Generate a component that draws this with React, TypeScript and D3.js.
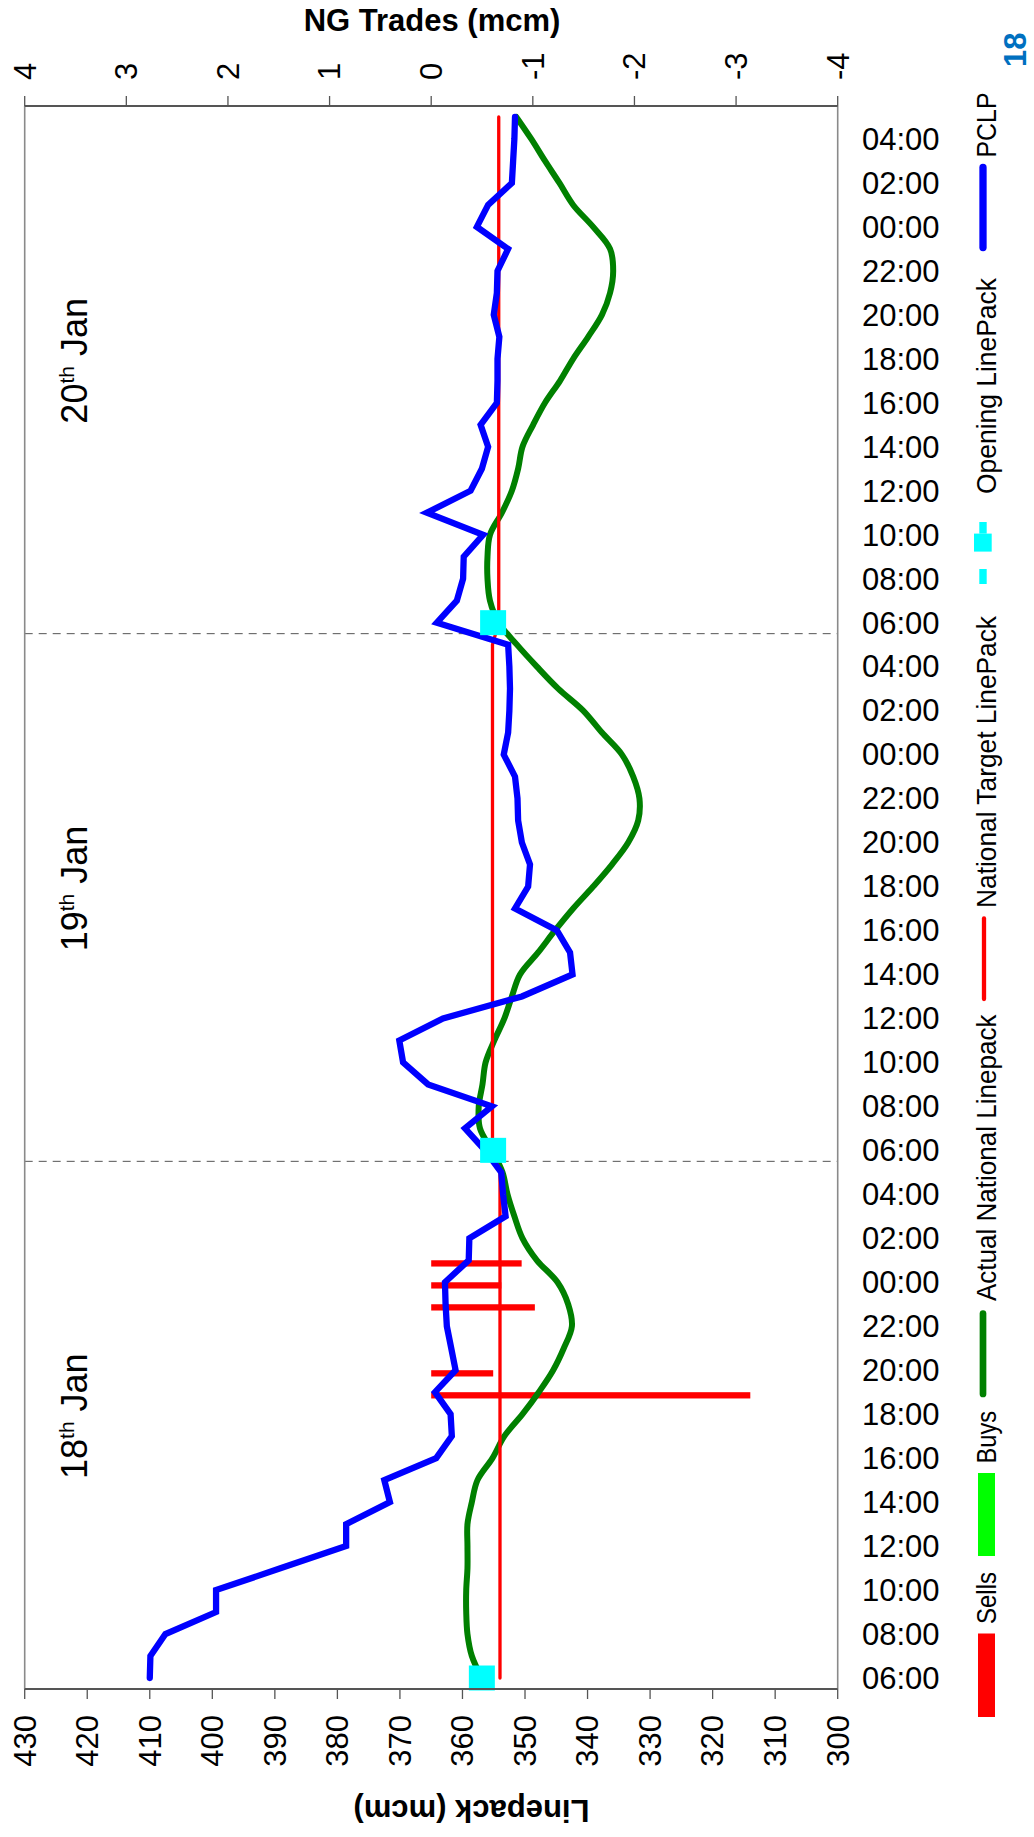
import React from "react";
import * as d3 from "d3";

// ---------- data ----------
// hourly categories from 18 Jan 06:00 (index 0) to 21 Jan 05:00 (index 71)
const timeTickLabels = [
  "06:00", "08:00", "10:00", "12:00", "14:00", "16:00", "18:00", "20:00", "22:00", "00:00", "02:00", "04:00",
  "06:00", "08:00", "10:00", "12:00", "14:00", "16:00", "18:00", "20:00", "22:00", "00:00", "02:00", "04:00",
  "06:00", "08:00", "10:00", "12:00", "14:00", "16:00", "18:00", "20:00", "22:00", "00:00", "02:00", "04:00",
];
const dayNumbers = ["18", "19", "20"];
const dayStartHours = [0, 24, 48];
const linepackTicks = [430, 420, 410, 400, 390, 380, 370, 360, 350, 340, 330, 320, 310, 300];
const tradeTicks = [4, 3, 2, 1, 0, -1, -2, -3, -4];

const pclp = [
  410.0, 409.9, 407.5, 399.4, 399.4, 389.0, 378.6, 378.6, 371.6, 372.5, 364.2, 361.7,
  361.9, 364.4, 361.1, 361.8, 362.5, 362.7, 362.8, 359.0, 358.9, 353.1, 353.5, 353.8,
  356.4, 359.6, 355.3, 365.5, 369.5, 370.1, 363.1, 350.5, 342.4, 342.8, 344.9, 351.6,
  349.5, 349.2, 350.5, 351.1, 351.2, 351.6, 353.4, 352.7, 352.5, 352.4, 352.5, 352.7,
  364.1, 360.9, 359.9, 359.8, 356.7, 365.7, 358.7, 356.9, 355.9, 357.1, 354.5, 354.4,
  354.4, 354.1, 355.0, 354.5, 354.4, 352.7, 357.7, 355.9, 352.1, 351.9, 351.7, 351.6,
];
const actualLinepack = [
  356.9, 358.5, 359.2, 359.4, 359.4, 359.2, 359.2, 359.2, 358.5, 357.6, 355.2, 353.3,
  350.4, 347.8, 345.5, 343.8, 342.5, 343.1, 344.8, 348.1, 350.4, 351.7, 352.8, 353.6,
  355.3, 357.2, 357.4, 356.8, 356.3, 354.9, 353.3, 352.1, 350.8, 347.9, 345.2, 342.3,
  339.1, 336.1, 333.5, 331.9, 331.7, 332.7, 334.5, 337.7, 340.7, 344.7, 348.1, 351.3,
  354.2, 355.6, 356.0, 356.0, 355.6, 353.7, 352.1, 351.1, 350.4, 348.7, 346.8, 344.4,
  342.3, 339.9, 337.7, 336.4, 335.9, 336.4, 339.1, 342.3, 344.5, 346.8, 349.0, 351.4,
];
const targetLinepack = [
  354.0, 354.0, 354.0, 354.0, 354.0, 354.0, 354.0, 354.0, 354.0, 354.0, 354.0, 354.0,
  354.0, 354.0, 354.0, 354.0, 354.0, 354.0, 354.0, 354.0, 354.0, 354.0, 354.0, 354.0,
  355.2, 355.2, 355.2, 355.2, 355.2, 355.2, 355.2, 355.2, 355.2, 355.2, 355.2, 355.2,
  355.2, 355.2, 355.2, 355.2, 355.2, 355.2, 355.2, 355.2, 355.2, 355.2, 355.2, 355.2,
  354.2, 354.2, 354.2, 354.2, 354.2, 354.2, 354.2, 354.2, 354.2, 354.2, 354.2, 354.2,
  354.2, 354.2, 354.2, 354.2, 354.2, 354.2, 354.2, 354.2, 354.2, 354.2, 354.2, 354.2,
];
const openingHours = [0, 24, 48];
const openingValues = [356.9, 355.1, 355.1];
const sellHours = [13, 14, 17, 18, 19];
const sellValues = [-3.14, -0.61, -1.02, -0.69, -0.89];
const buyHours: number[] = [];
const buyValues: number[] = [];

const legendNames = ["Sells", "Buys", "Actual National Linepack", "National Target LinePack", "Opening LinePack", "PCLP"];

// ---------- layout ----------
const W = 1034;
const H = 1837;
const L = 24.7;
const R = 837.7;
const T = 106;
const B = 1689;
const FONT = "'Liberation Sans', Arial, Helvetica, sans-serif";

export default function App() {
  const x = d3.scaleLinear().domain([430, 300]).range([L, R]);
  const xt = d3.scaleLinear().domain([4, -4]).range([L, R]);
  const y = d3.scaleLinear().domain([-0.5, 71.5]).range([B, T]);
  const band = (B - T) / 72;
  const barH = band / 3.5;

  const straight = d3.line<number>().x((v) => x(v)).y((_, i) => y(i));
  const smooth = d3
    .line<number>()
    .x((v) => x(v))
    .y((_, i) => y(i))
    .curve(d3.curveCatmullRom.alpha(0.5));

  const dayBoundaries = [23.5, 47.5];

  return (
    <svg
      width={W}
      height={H}
      style={{ position: "absolute", left: 0, top: 0, background: "#fff" }}
      fontFamily={FONT}
    >
      <rect x={0} y={0} width={W} height={H} fill="#fff" />

      {/* day separators */}
      {dayBoundaries.map((t) => (
        <line key={t} x1={L} x2={R} y1={y(t)} y2={y(t)} stroke="#555" strokeWidth={1} strokeDasharray="8,6" />
      ))}

      {/* sells bars */}
      {sellHours.map((h, i) => (
        <rect
          key={"s" + h}
          x={Math.min(xt(0), xt(sellValues[i]))}
          width={Math.abs(xt(sellValues[i]) - xt(0))}
          y={y(h)}
          height={barH}
          fill="#ff0000"
        />
      ))}
      {buyHours.map((h, i) => (
        <rect
          key={"b" + h}
          x={Math.min(xt(0), xt(buyValues[i]))}
          width={Math.abs(xt(buyValues[i]) - xt(0))}
          y={y(h) - barH}
          height={barH}
          fill="#00ff00"
        />
      ))}

      {/* lines */}
      <path d={smooth(actualLinepack) || ""} fill="none" stroke="#008000" strokeWidth={6} strokeLinecap="round" />
      <path d={straight(targetLinepack) || ""} fill="none" stroke="#ff0000" strokeWidth={3.3} strokeLinecap="round" />
      <path
        d={straight(pclp) || ""}
        fill="none"
        stroke="#0000ff"
        strokeWidth={6.3}
        strokeLinecap="round"
        strokeLinejoin="miter"
      />
      {openingHours.map((h, i) => (
        <rect key={"o" + h} x={x(openingValues[i]) - 13} y={y(h) - 12.5} width={26} height={25} fill="#00ffff" />
      ))}

      {/* frame */}
      <line x1={L} x2={L} y1={T} y2={B} stroke="#8a8a8a" strokeWidth={1.6} />
      <line x1={R} x2={R} y1={T} y2={B} stroke="#8a8a8a" strokeWidth={1.6} />
      <line x1={L} x2={R} y1={T} y2={T} stroke="#555" strokeWidth={2} />
      <line x1={L} x2={R} y1={B} y2={B} stroke="#555" strokeWidth={2} />

      {/* bottom axis (linepack) */}
      {linepackTicks.map((v) => (
        <g key={"lt" + v}>
          <line x1={x(v)} x2={x(v)} y1={B} y2={B + 10} stroke="#555" strokeWidth={1.3} />
          <text
            transform={`translate(${x(v)},1715) rotate(-90)`}
            textAnchor="end"
            dy="0.35em"
            fontSize={31}
            fill="#000"
          >
            {String(v)}
          </text>
        </g>
      ))}
      <text
        transform="translate(471.5,1800) rotate(180)"
        textAnchor="middle"
        fontSize={31}
        fontWeight="bold"
        fill="#000"
      >
        Linepack (mcm)
      </text>

      {/* top axis (trades) */}
      {tradeTicks.map((v) => (
        <g key={"tt" + v}>
          <line x1={xt(v)} x2={xt(v)} y1={T} y2={T - 10} stroke="#555" strokeWidth={1.3} />
          <text
            transform={`translate(${xt(v)},80) rotate(-90)`}
            textAnchor="start"
            dy="0.35em"
            fontSize={31}
            fill="#000"
          >
            {String(v)}
          </text>
        </g>
      ))}
      <text x={432} y={31} textAnchor="middle" fontSize={31} fontWeight="bold" fill="#000">
        NG Trades (mcm)
      </text>

      {/* time labels */}
      {timeTickLabels.map((lab, i) => (
        <text key={"tl" + i} x={862} y={y(i * 2)} dy="0.35em" fontSize={31} fill="#000">
          {lab}
        </text>
      ))}

      {/* day labels */}
      {dayNumbers.map((d, i) => (
        <text
          key={"d" + d}
          transform={`translate(86.7,${y(dayStartHours[i] + 11.5) - 9}) rotate(-90)`}
          textAnchor="middle"
          fontSize={36}
          fill="#000"
        >
          {d}
          <tspan fontSize={21} dy={-13}>th</tspan>
          <tspan dy={13}> Jan</tspan>
        </text>
      ))}

      {/* page number */}
      <text
        transform="translate(1015.5,67) rotate(-90)"
        textAnchor="start"
        dy="0.35em"
        fontSize={31}
        fontWeight="bold"
        fill="#0070c0"
      >
        18
      </text>

      {/* legend */}
      <rect x={978} y={1633.5} width={17} height={83.5} fill="#ff0000" />
      <rect x={978} y={1473} width={17} height={83} fill="#00ff00" />
      <line x1={983} x2={983} y1={1313.5} y2={1394} stroke="#008000" strokeWidth={6.7} strokeLinecap="round" />
      <line x1={984} x2={984} y1={918.5} y2={999} stroke="#ff0000" strokeWidth={4.3} strokeLinecap="round" />
      <rect x={979.3} y={569} width={7.4} height={15} fill="#00ffff" />
      <rect x={974} y={533.6} width={17.7} height={18} fill="#00ffff" />
      <rect x={979.3} y={522} width={7.4} height={11.6} fill="#00ffff" />
      <line x1={983} x2={983} y1={167.5} y2={247.5} stroke="#0000ff" strokeWidth={7.3} strokeLinecap="round" />
      {legendNames.map((name, i) => {
        const starts = [1624, 1463.5, 1301, 908, 494, 157.5];
        const lens = [52, 52.5, 286.5, 292, 216, 65];
        return (
          <text
            key={"lg" + i}
            transform={`translate(995.5,${starts[i]}) rotate(-90)`}
            textAnchor="start"
            fontSize={28}
            textLength={lens[i]}
            lengthAdjust="spacingAndGlyphs"
            fill="#000"
          >
            {name}
          </text>
        );
      })}
    </svg>
  );
}
